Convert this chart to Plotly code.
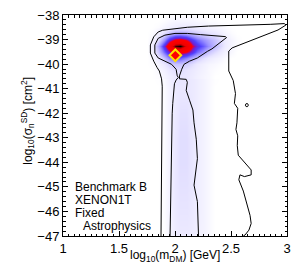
import plotly.graph_objects as go

# ---- posterior density, upper region (uniform grid) ----
up_x = [1.75, 1.8, 1.85, 1.9, 1.95, 2.0, 2.05, 2.1, 2.15, 2.2, 2.25, 2.3, 2.35, 2.4, 2.45, 2.5, 2.55, 2.6]
up_y = [-40.5, -40.25, -40.0, -39.75, -39.5, -39.25, -39.0, -38.75, -38.5, -38.25, -38.0]
up_density = [
    [0, 0, 1, 3, 6, 9, 10, 9, 7, 5, 3, 2, 0, 0, 0, 0, 0, 0],
    [0, 0, 2, 5, 9, 12, 12, 10, 8, 6, 4, 2, 1, 0, 0, 0, 0, 0],
    [0, 1, 4, 9, 15, 19, 19, 16, 12, 8, 5, 3, 2, 1, 0, 0, 0, 0],
    [0, 2, 9, 20, 32, 38, 38, 32, 24, 17, 12, 8, 5, 3, 1, 0, 0, 0],
    [0, 4, 18, 36, 50, 58, 60, 56, 46, 35, 27, 19, 13, 8, 4, 2, 0, 0],
    [0, 6, 24, 48, 70, 96, 100, 80, 56, 46, 38, 30, 22, 14, 7, 3, 1, 0],
    [0, 3, 12, 30, 48, 60, 62, 56, 44, 36, 30, 25, 20, 13, 7, 3, 1, 0],
    [0, 1, 5, 12, 19, 24, 25, 23, 19, 16, 13, 11, 9, 6, 3, 1, 0, 0],
    [0, 0, 1, 3, 5, 7, 8, 8, 7, 6, 5, 4, 3, 2, 1, 0, 0, 0],
    [0, 0, 0, 1, 2, 3, 3, 3, 3, 2, 2, 1, 1, 0, 0, 0, 0, 0],
    [0, 0, 0, 0, 1, 1, 1, 1, 1, 1, 0, 0, 0, 0, 0, 0, 0, 0],
]

# ---- posterior density, lower band (uniform grid) ----
low_x = [1.75, 1.8, 1.85, 1.9, 1.95, 2.0, 2.05, 2.1, 2.15, 2.2, 2.25, 2.3, 2.35, 2.4, 2.45]
low_y = [-47, -46, -45, -44, -43, -42, -41, -40]
low_density = [
    [0, 0, 0, 0, 3, 7, 8, 8, 7, 5, 4, 2, 0, 0, 0],
    [0, 0, 0, 1, 4, 8, 10, 10, 8, 6, 4, 2, 0, 0, 0],
    [0, 0, 0, 1, 4, 9, 11, 11, 9, 6, 4, 2, 0, 0, 0],
    [0, 0, 0, 1, 4, 9, 12, 12, 9, 6, 4, 2, 0, 0, 0],
    [0, 0, 0, 1, 4, 9, 12, 12, 9, 6, 4, 2, 0, 0, 0],
    [0, 0, 0, 1, 4, 8, 11, 11, 8, 6, 4, 2, 0, 0, 0],
    [0, 0, 0, 1, 4, 8, 9, 9, 8, 6, 4, 2, 0, 0, 0],
    [0, 0, 1, 3, 7, 11, 11, 10, 8, 6, 4, 2, 1, 0, 0],
]

# ---- outer (95%) contour ----
outer_x = [1.875, 1.88, 1.883, 1.886, 1.886, 1.88, 1.86, 1.84, 1.81, 1.78, 1.78, 1.81, 1.85, 1.89,
           2.0, 2.11, 2.3, 2.6, 2.85, 2.976, 2.99, 2.92, 2.77, 2.63, 2.51, 2.48, 2.48, 2.48, 2.52,
           2.54, 2.53, 2.56, 2.553, 2.544, 2.56, 2.556, 2.565, 2.62, 2.68, 2.68, 2.62, 2.58, 2.57,
           2.61, 2.64, 2.67, 2.68, 2.66, 2.625, 2.61]
outer_y = [-47, -45, -43, -41.5, -40.9, -40.6, -40.28, -40.14, -39.88, -39.55, -39.22, -38.89, -38.69, -38.62,
           -38.56, -38.5, -38.45, -38.42, -38.38, -38.35, -38.41, -38.61, -38.87, -39.14, -39.34, -39.47, -39.93, -40.28, -40.67,
           -41.2, -41.6, -41.8, -42.39, -42.66, -42.92, -43.32, -43.71, -43.98, -44.31, -44.51, -44.58, -44.51, -44.71,
           -45.17, -45.7, -46.16, -46.49, -46.76, -46.96, -47.0]

# ---- inner (68%) contour ----
inner_x = [1.956, 1.96, 1.965, 1.97, 1.975, 1.98, 1.995, 2.01, 2.03, 2.02, 2.01, 1.97, 1.91, 1.85, 1.82, 1.82,
           1.85, 1.91, 2.0, 2.11, 2.23, 2.33, 2.45, 2.46, 2.33, 2.29, 2.2, 2.13, 2.08, 2.06, 2.04, 2.04,
           2.1, 2.11, 2.1, 2.13, 2.16, 2.17, 2.19, 2.2, 2.17, 2.2, 2.21]
inner_y = [-47, -45.5, -44, -43, -42, -41.6, -40.8, -40.65, -40.54, -40.48, -40.21, -40.01, -39.88, -39.75, -39.55, -39.22,
           -38.95, -38.82, -38.75, -38.75, -38.8, -38.85, -38.88, -38.92, -39.38, -39.48, -39.75, -39.88, -40.01, -40.21, -40.48, -40.6,
           -40.62, -40.74, -41.07, -41.47, -41.87, -42.39, -43.06, -43.85, -44.93, -45.6, -47]

# small island contour
island_x = [2.635, 2.648, 2.655, 2.648, 2.635, 2.628, 2.635]
island_y = [-41.61, -41.61, -41.67, -41.73, -41.73, -41.67, -41.61]

# benchmark point
bench_x = [2.003]
bench_y = [-39.64]

x_ticks = [1, 1.5, 2, 2.5, 3]
x_ticklabels = ["1", "1.5", "2", "2.5", "3"]
y_ticks = [-47, -46, -45, -44, -43, -42, -41, -40, -39, -38]
y_ticklabels = ["\u221247", "\u221246", "\u221245", "\u221244", "\u221243", "\u221242", "\u221241", "\u221240", "\u221239", "\u221238"]

label_lines = ["Benchmark B", "XENON1T", "Fixed", "Astrophysics"]
label_x = [1.088, 1.088, 1.088, 1.164]
label_y = [-45.0, -45.53, -46.07, -46.59]

colorscale = [
    [0.0, "#ffffff"], [0.03, "#f6f5ff"], [0.1, "#e8e5ff"], [0.2, "#c6c0ff"],
    [0.3, "#9a90ff"], [0.42, "#5040ff"], [0.5, "#7020d0"], [0.55, "#e00040"],
    [0.58, "#ff0000"], [0.82, "#f00000"], [0.92, "#900000"], [1.0, "#000000"],
]

FONT = "Liberation Sans, Arial, Helvetica, sans-serif"

fig = go.Figure()
fig.add_trace(go.Heatmap(x=low_x, y=low_y, z=low_density, zsmooth="best", colorscale=colorscale,
                         zmin=0, zmax=100, showscale=False, hoverinfo="skip"))
fig.add_trace(go.Heatmap(x=up_x, y=up_y, z=up_density, zsmooth="best", colorscale=colorscale,
                         zmin=0, zmax=100, showscale=False, hoverinfo="skip"))
fig.add_trace(go.Scatter(x=outer_x, y=outer_y, mode="lines", line=dict(color="black", width=1), hoverinfo="skip"))
fig.add_trace(go.Scatter(x=inner_x, y=inner_y, mode="lines", line=dict(color="black", width=1), hoverinfo="skip"))
fig.add_trace(go.Scatter(x=island_x, y=island_y, mode="lines", line=dict(color="black", width=1), hoverinfo="skip"))
fig.add_trace(go.Scatter(x=bench_x, y=bench_y, mode="markers",
                         marker=dict(symbol="diamond", size=9, color="#ff0000", line=dict(color="#ffe000", width=2)),
                         hoverinfo="skip"))

for t, xx, yy in zip(label_lines, label_x, label_y):
    fig.add_annotation(x=xx, y=yy, xref="x", yref="y", text=t, showarrow=False,
                       xanchor="left", yanchor="middle", font=dict(size=12, color="black", family=FONT))

fig.add_annotation(x=0.5, y=-0.09, xref="paper", yref="paper",
                   text="log<sub>10</sub>(m<sub>DM</sub>) [GeV]", showarrow=False,
                   xanchor="center", yanchor="middle", font=dict(size=12, color="black", family=FONT))
fig.add_annotation(x=-0.158, y=0.52, xref="paper", yref="paper", textangle=-90,
                   text="log<sub>10</sub>(σ<sub>n</sub><sup>SD</sup>) [cm<sup>2</sup>]", showarrow=False,
                   xanchor="center", yanchor="middle", font=dict(size=12, color="black", family=FONT))

axis_common = dict(showgrid=False, zeroline=False, showline=True, linecolor="black", linewidth=1,
                   mirror="allticks", ticks="inside", ticklen=5, tickcolor="black", tickwidth=1,
                   tickfont=dict(size=13, color="black", family=FONT))
fig.update_xaxes(range=[1, 3], tickmode="array", tickvals=x_ticks, ticktext=x_ticklabels,
                 minor=dict(dtick=0.05, ticklen=2.5, ticks="inside", tickcolor="black"), **axis_common)
fig.update_yaxes(range=[-47, -38], tickmode="array", tickvals=y_ticks, ticktext=y_ticklabels,
                 minor=dict(dtick=0.2, ticklen=2.5, ticks="inside", tickcolor="black"), **axis_common)

fig.update_layout(width=299, height=268, margin=dict(l=63, r=8, t=9, b=32),
                  paper_bgcolor="white", plot_bgcolor="white", showlegend=False,
                  font=dict(family=FONT, color="black"))
fig.write_html("out.html", config={"displayModeBar": False},
               post_script="document.body.style.margin='0';document.body.style.padding='0';")
